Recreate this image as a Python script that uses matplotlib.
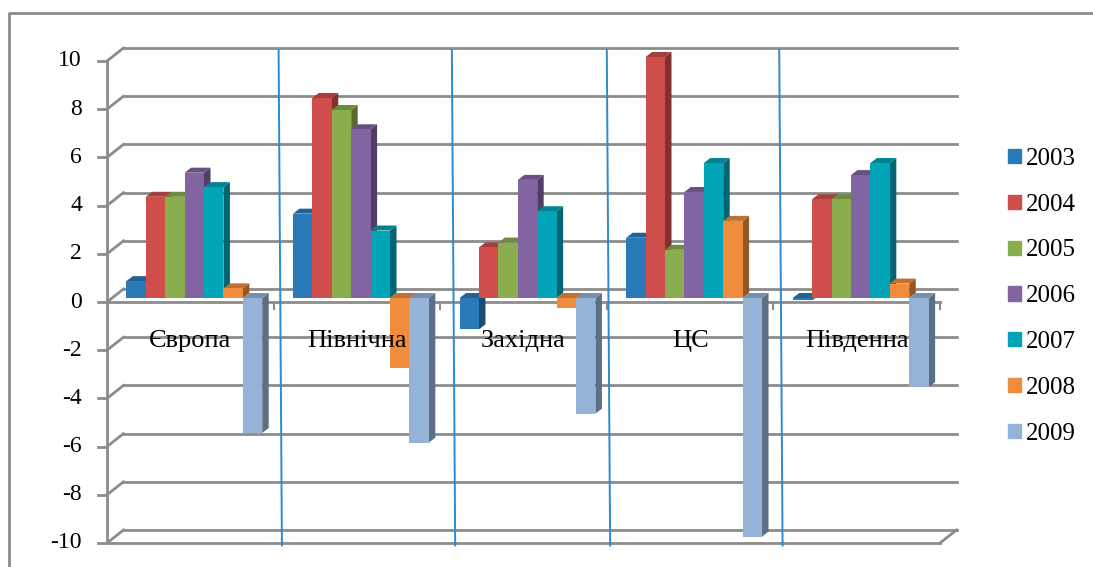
import numpy as np
import matplotlib.pyplot as plt
from matplotlib.patches import Polygon, Patch
from matplotlib.transforms import offset_copy

plt.rcParams['font.family'] = ['Liberation Serif', 'DejaVu Serif']

regions = ['Європа', 'Північна', 'Західна', 'ЦС', 'Південна']
years = ['2003', '2004', '2005', '2006', '2007', '2008', '2009']
y2003 = [0.7, 3.5, -1.3, 2.5, -0.1]
y2004 = [4.2, 8.3, 2.1, 10.0, 4.1]
y2005 = [4.2, 7.8, 2.3, 2.0, 4.1]
y2006 = [5.2, 7.0, 4.9, 4.4, 5.1]
y2007 = [4.6, 2.8, 3.6, 5.6, 5.6]
y2008 = [0.4, -2.9, -0.4, 3.2, 0.6]
y2009 = [-5.6, -6.0, -4.8, -9.9, -3.7]
series = [y2003, y2004, y2005, y2006, y2007, y2008, y2009]
colors = ['#2a7ab8', '#cf4d4a', '#8aae4e', '#8264a2', '#02a4b8', '#f08c3d', '#95b3d7']
yticks = list(range(-10, 11, 2))

W, H = 1093, 567
PX = 166.6   # pixels per category
PY = 24.1    # pixels per unit
X0, Y0 = 107, 302  # front axis origin (pixels from top-left)

fig = plt.figure(figsize=(W / 100, H / 100), dpi=100)
ax = fig.add_axes([0, 0, 1, 1])
ax.set_xlim(-X0 / PX, (W - X0) / PX)
ax.set_ylim((Y0 - H) / PY, Y0 / PY)
ax.axis('off')

grid_c = '#8c8c8c'
n = len(regions)

# back wall and bar plane shifted in depth
back = offset_copy(ax.transData, fig=fig, x=16.5, y=13, units='dots')
plane = offset_copy(ax.transData, fig=fig, x=4, y=4, units='dots')

# gridlines on the back wall, linked to the front axis
for v in yticks:
    ax.plot([0, n], [v, v], color=grid_c, lw=2, transform=back, zorder=1)
    ax.plot([0, 16.5 / PX], [v, v + 13 / PY], color=grid_c, lw=2, zorder=1)
    ax.plot([-9 / PX, 0], [v, v], color=grid_c, lw=2, zorder=1)
ax.plot([0, 0], [-10, 10], color=grid_c, lw=2, zorder=1)

# floor edges at 0 and -10
for v in (0, -10):
    ax.plot([0, n], [v, v], color=grid_c, lw=2, zorder=1)
ax.plot([n, n + 16.5 / PX], [-10, -10 + 13 / PY], color=grid_c, lw=2, zorder=1)
for k in range(1, n + 1):
    ax.plot([k, k], [0, -7 / PY], color=grid_c, lw=1.5, zorder=1)

# 3D bars
nb = len(series)
bw = 0.1165
gap = (1 - nb * bw) / 2
ddx, ddy = 6.5 / PX, 5 / PY
x = np.arange(n)
for j, (vals, c) in enumerate(zip(series, colors)):
    left = x + gap + j * bw
    rgb = np.array(plt.matplotlib.colors.to_rgb(c))
    for xl, v in zip(left, vals):
        b, t = min(v, 0), max(v, 0)
        side = Polygon([(xl + bw, b), (xl + bw, t), (xl + bw + ddx, t + ddy),
                        (xl + bw + ddx, b + ddy)], closed=True,
                       facecolor=rgb * 0.62, edgecolor='none',
                       transform=plane, zorder=3)
        top = Polygon([(xl, t), (xl + bw, t), (xl + bw + ddx, t + ddy),
                       (xl + ddx, t + ddy)], closed=True,
                      facecolor=rgb * 0.8, edgecolor='none',
                      transform=plane, zorder=3)
        ax.add_patch(side)
        ax.add_patch(top)
    ax.bar(left, vals, bw, align='edge', color=c, edgecolor='none',
           transform=plane, zorder=3)

# blue dividers between groups
nudge = [0.03, 0.07, 0.0, 0.035]
for k, dx in zip(range(1, n), nudge):
    ax.plot([k + dx, k + dx + 0.02], [10.45, -10.1], color='#2b8ad0',
            lw=1.4, zorder=4)

# axis labels
for v in yticks:
    ax.text(-25 / PX, v, str(v), ha='right', va='center', fontsize=17,
            zorder=5)
for k, name in enumerate(regions):
    ax.text(k + 0.5, -1.62, name, ha='center', va='center', fontsize=19,
            zorder=5)

# legend
handles = [Patch(color=c) for c in colors]
ax.legend(handles, years, loc='upper left', frameon=False,
          bbox_to_anchor=(1008 / W, 1 - 148 / H), bbox_transform=fig.transFigure,
          fontsize=18, labelspacing=0.95, handlelength=0.5, handleheight=0.5,
          handletextpad=0.2, borderpad=0, borderaxespad=0)

# chart border
ax.plot([9 / W, 9 / W, 1], [0, 1 - 13 / H, 1 - 13 / H], color='#8a8a8a',
        lw=2, transform=ax.transAxes, clip_on=False)

fig.savefig('out.png', dpi=100)
